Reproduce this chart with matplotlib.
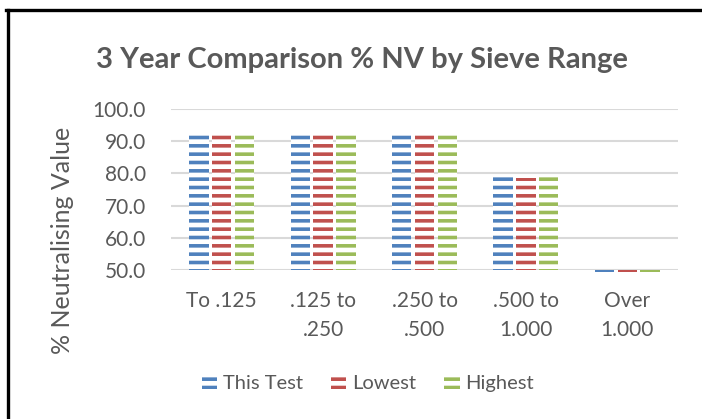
import matplotlib.pyplot as plt
from matplotlib.lines import Line2D
import numpy as np

# --- dados ---
categories = ['To .125', '.125 to\n.250', '.250 to\n.500', '.500 to\n1.000', 'Over\n1.000']
series_names = ['This Test', 'Lowest', 'Highest']
this_test = [92.0, 92.0, 92.0, 78.8, 49.4]
lowest = [91.8, 92.0, 92.0, 78.7, 49.4]
highest = [92.0, 93.3, 92.0, 78.8, 49.4]
yticks = [50.0, 60.0, 70.0, 80.0, 90.0, 100.0]

colors = ['#4f81bd', '#c0504d', '#9bbb59']
grey = '#595959'

plt.rcParams['font.family'] = ['Lato', 'DejaVu Sans']
plt.rcParams['hatch.linewidth'] = 2.6

fig = plt.figure(figsize=(7.02, 4.19), dpi=100)
ax = fig.add_axes([171 / 702, 1 - 270 / 419, (678 - 171) / 702, (270 - 109) / 419])

x = np.arange(len(categories))
width = 0.19
gap = 0.035
base = yticks[0]
for i, (vals, name) in enumerate(zip([this_test, lowest, highest], series_names)):
    offs = (i - 1) * (width + gap)
    heights = [v - base for v in vals]
    ax.bar(x + offs, heights, width, bottom=base, facecolor='white',
           edgecolor=colors[i], hatch='--', linewidth=0, label=name,
           clip_on=False, zorder=3)

ax.set_xlim(-0.5, len(categories) - 0.5)
ax.set_ylim(yticks[0], yticks[-1])
ax.set_yticks(yticks)
ax.set_yticklabels([f'{t:.1f}' for t in yticks])
ax.set_xticks(x)
ax.set_xticklabels(categories, linespacing=1.55, va='top')
ax.tick_params(axis='both', length=0, labelsize=15, colors=grey)
ax.tick_params(axis='x', pad=15)
ax.tick_params(axis='y', pad=18)
ax.grid(axis='y', color='#d9d9d9', linewidth=1.5, zorder=0)
for s in ax.spines.values():
    s.set_visible(False)

ax.set_ylabel('% Neutralising Value', fontsize=18, color=grey, va='center')
ax.yaxis.set_label_coords((62 - 171) / 507, (270 - 240) / 161)
fig.text(362 / 702, 1 - 60 / 419, '3 Year Comparison % NV by Sieve Range',
         fontsize=21, fontweight='bold', color=grey, ha='center', va='center')

ax.legend(loc='center', bbox_to_anchor=(368 / 702, 1 - 383 / 419),
          bbox_transform=fig.transFigure, ncol=3, frameon=False,
          fontsize=14.5, labelcolor=grey, handlelength=0.75, handleheight=0.75,
          columnspacing=1.4, handletextpad=0.3)

# moldura preta (só topo e esquerda aparecem)
fig.add_artist(Line2D([7.5 / 702, 7.5 / 702], [0, 1 - 10.5 / 419], color='black',
                      linewidth=2.4, transform=fig.transFigure))
fig.add_artist(Line2D([6 / 702, 1], [1 - 10.5 / 419, 1 - 10.5 / 419], color='black',
                      linewidth=2.4, transform=fig.transFigure))

fig.savefig('out.png', dpi=100)
